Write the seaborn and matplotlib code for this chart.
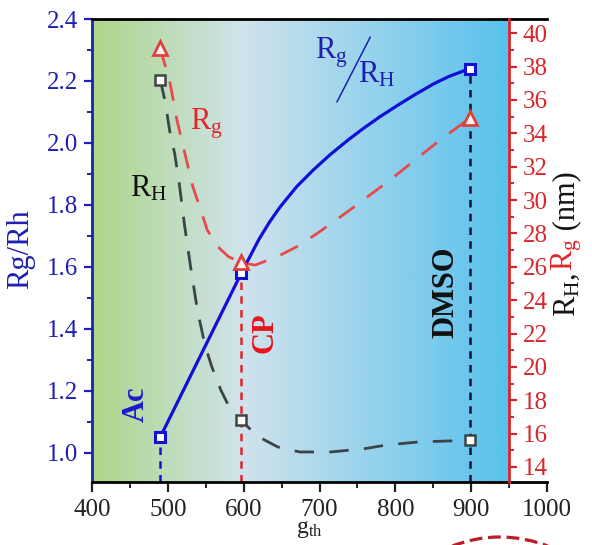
import numpy as np
import pandas as pd
import matplotlib
matplotlib.use("Agg")
import matplotlib.pyplot as plt
import seaborn as sns
from matplotlib.colors import LinearSegmentedColormap
from matplotlib.patches import Ellipse
from matplotlib.ticker import MultipleLocator, FormatStrFormatter

# solvents and their g_th values
solvents = ["Ac", "CP", "DMSO"]
g_th = [490, 597, 898]
ratio = [1.05, 1.58, 2.24]          # Rg/Rh (left axis)
rg_nm = [39.1, 26.3, 34.9]          # Rg (nm, right axis)
rh_nm = [37.2, 16.8, 15.6]          # RH (nm, right axis)

# guide curves
ratio_curve_x = [490, 597, 620, 634, 648, 670, 692, 714, 738, 758, 780, 806, 826, 850,
                 870, 898]
ratio_curve_y = [1.05, 1.58, 1.688, 1.744, 1.793, 1.859, 1.913, 1.962, 2.010, 2.047,
                 2.085, 2.126, 2.156, 2.19, 2.214, 2.24]
rg_curve_x = [490, 503, 512, 524, 533, 542, 552, 566, 580, 597, 615, 644, 670, 697, 740,
              793, 859, 898]
rg_curve_y = [39.1, 37.0, 34.8, 32.5, 30.8, 29.6, 28.2, 27.2, 26.6, 26.25, 26.1, 26.6,
              27.2, 28.0, 29.4, 31.2, 33.6, 34.9]
rh_curve_x = [490, 496, 503, 509, 515, 522, 530, 539, 549, 558, 570, 582, 597, 610, 622,
              645, 674, 715, 760, 786, 830, 898]
rh_curve_y = [37.2, 36.0, 34.0, 32.8, 31.0, 28.5, 26.0, 23.4, 21.3, 20.0, 18.6, 17.5, 16.8,
              16.2, 15.75, 15.2, 14.9, 14.9, 15.1, 15.3, 15.5, 15.6]

BLUE = "#1010d8"
AXBLUE = "#1f1fb4"
RED = "#e84a4c"
AXRED = "#d8262c"
DARK = "#3c4446"

sns.set_theme(style="ticks")
plt.rcParams["font.family"] = ["Liberation Serif", "STIXGeneral", "DejaVu Serif"]
plt.rcParams["mathtext.fontset"] = "stix"

fig = plt.figure(figsize=(5.92, 5.45), dpi=100)
ax = fig.add_axes([0.1554, 0.1156, 0.7686, 0.8495])

ymin, ymax = 0.905, 2.4
r_min, r_max = 13.1, 40.85

# gradient background
cmap = LinearSegmentedColormap.from_list(
    "bg", [(0.0, "#acd687"), (0.36, "#d0e3ec"), (1.0, "#58c1ec")])
grad = np.linspace(0, 1, 256).reshape(1, -1)
ax.imshow(grad, extent=[400, 950, ymin, ymax], aspect="auto", cmap=cmap, zorder=0)

ax.set_xlim(400, 1000)
ax.set_ylim(ymin, ymax)

# vertical marker lines
ax.vlines(g_th[0], ymin, ratio[0], colors=BLUE, linestyles=(0, (3, 2.5)), lw=1.8, zorder=2)
ax.vlines(g_th[1], ymin, ratio[1], colors="#e0262c", linestyles=(0, (3, 2.5)), lw=1.8, zorder=2)
ax.vlines(g_th[2], ymin, ratio[2], colors="#101030", linestyles=(0, (3, 2.5)), lw=1.8, zorder=2)

ratio_df = pd.DataFrame({"g": ratio_curve_x, "v": ratio_curve_y})
sns.lineplot(data=ratio_df, x="g", y="v", ax=ax, color=BLUE, lw=2.3,
             sort=False, estimator=None, zorder=3)
ax.plot(g_th, ratio, ls="none", marker="s", ms=7.5, mfc="white", mec=BLUE,
        mew=2.2, zorder=6)

# right axis
ax2 = ax.twinx()
ax2.set_ylim(r_min, r_max)
ax2.patch.set_visible(False)

rg_df = pd.DataFrame({"g": rg_curve_x, "v": rg_curve_y})
rh_df = pd.DataFrame({"g": rh_curve_x, "v": rh_curve_y})
sns.lineplot(data=rg_df, x="g", y="v", ax=ax2, color=RED, lw=2.0,
             linestyle=(0, (7, 5.5)), sort=False, estimator=None, zorder=3)
sns.lineplot(data=rh_df, x="g", y="v", ax=ax2, color=DARK, lw=2.0,
             linestyle=(0, (7, 5.5)), sort=False, estimator=None, zorder=3)
ax2.plot(g_th, rg_nm, ls="none", marker="^", ms=10, mfc="#fff4f2", mec="#e0403c",
         mew=2.0, zorder=5)
ax2.plot(g_th, rh_nm, ls="none", marker="s", ms=7.5, mfc="#fffdf6", mec=DARK,
         mew=1.8, zorder=5)
ax2.set_xlim(400, 1000)

# spines
ax.spines["right"].set_visible(False)
for s in ["top", "left", "bottom"]:
    ax2.spines[s].set_visible(False)
ax.spines["top"].set_color("black")
ax.spines["top"].set_linewidth(2)
ax.spines["bottom"].set_color("black")
ax.spines["bottom"].set_linewidth(2)
ax.spines["left"].set_color(AXBLUE)
ax.spines["left"].set_linewidth(2)
ax2.spines["right"].set_position(("data", 950))
ax2.spines["right"].set_color(AXRED)
ax2.spines["right"].set_linewidth(2)

# ticks
ax.xaxis.set_major_locator(MultipleLocator(100))
ax.xaxis.set_minor_locator(MultipleLocator(50))
ax.yaxis.set_minor_locator(MultipleLocator(0.1))
ax2.yaxis.set_minor_locator(MultipleLocator(1))
ax.tick_params(axis="x", which="major", direction="out", length=7, width=1.6,
               labelsize=18, colors="#222222", pad=5, top=False)
ax.tick_params(axis="x", which="minor", direction="out", length=4, width=1.4, top=False)
ax.tick_params(axis="y", which="major", direction="out", length=6, width=1.6,
               labelsize=18, colors=AXBLUE, pad=4, right=False)
ax.tick_params(axis="y", which="minor", direction="out", length=3.5, width=1.4,
               colors=AXBLUE, right=False)
ax2.tick_params(axis="y", which="major", direction="out", length=6, width=1.6,
                labelsize=18, colors=AXRED, pad=4)
ax2.tick_params(axis="y", which="minor", direction="out", length=3.5, width=1.4,
                colors=AXRED)
ax.set_yticks(np.arange(1.0, 2.41, 0.2))
ax.yaxis.set_major_formatter(FormatStrFormatter("%.1f"))
ax2.set_yticks(np.arange(14, 41, 2))

ax.set_xlabel(r"$\mathregular{g_{th}}$", fontsize=17, color="#222222")
ax.xaxis.set_label_coords(0.477, -0.079)
ax.set_ylabel("Rg/Rh", fontsize=22, color=AXBLUE)
ax.yaxis.set_label_coords(-0.125, 0.503)
ax2.set_ylabel("")

# in-plot labels
ax.text(459, 1.155, solvents[0], rotation=90, ha="center", va="center",
        fontsize=22, fontweight="bold", color="#1a1ad0", zorder=7)
ax.text(628, 1.387, solvents[1], rotation=90, ha="center", va="center",
        fontsize=22, fontweight="bold", color="#e8141c", zorder=7)
ax.text(867, 1.519, solvents[2], rotation=90, ha="center", va="center",
        fontsize=22, fontweight="bold", color="#101010", zorder=7)

ax.text(529, 2.042, r"$\mathregular{R_g}$", fontsize=22, color="#e2262c",
        ha="left", va="baseline", zorder=7)
ax.text(450, 1.826, r"$\mathregular{R_H}$", fontsize=22, color="#111111",
        ha="left", va="baseline", zorder=7)
ax.text(694, 2.274, r"$\mathregular{R_g}$", fontsize=22, color=AXBLUE,
        ha="left", va="baseline", zorder=7)
ax.plot([723, 767], [2.132, 2.342], color=AXBLUE, lw=1.1, zorder=7)
ax.text(751, 2.194, r"$\mathregular{R_H}$", fontsize=22, color=AXBLUE,
        ha="left", va="baseline", zorder=7)

# right-axis label with two colours
fig.canvas.draw()
renderer = fig.canvas.get_renderer()
y0 = (545 - 317) / 545
parts = [(r"$\mathregular{R_{H}}$, ", "#151515"),
         (r"$\mathregular{R_g}$", "#e2262c"),
         (" (nm)", "#151515")]
for txt, col in parts:
    t = fig.text(0.958, y0, txt, rotation=90, ha="center", va="bottom",
                 fontsize=22, color=col)
    bb = t.get_window_extent(renderer=renderer)
    y0 += bb.height / fig.bbox.height

# partial dashed circle at the bottom edge
arc = Ellipse((500 / 592, (545 - 667) / 545), 260 / 592, 260 / 545,
              transform=fig.transFigure, fill=False, ec="#b81c24", lw=2.3,
              ls=(0, (4, 1.8)))
fig.patches.append(arc)

fig.savefig("out.png", dpi=100)
